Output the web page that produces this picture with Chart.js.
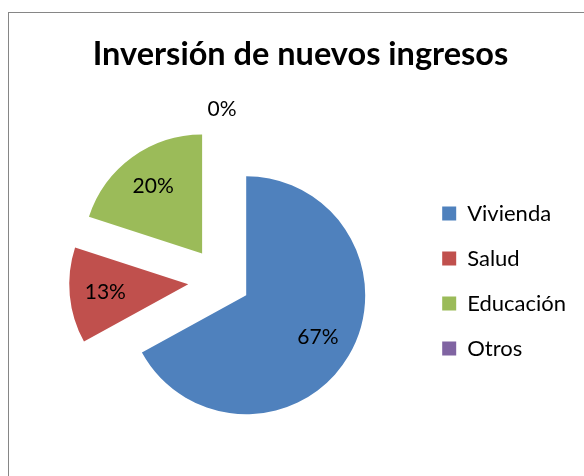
<!DOCTYPE html>
<html>
<head>
<meta charset="utf-8">
<script src="https://cdn.jsdelivr.net/npm/chart.js@4"></script>
<style>
  body { margin: 0; background: #fff; }
  #wrap { position: relative; width: 584px; height: 476px; overflow: hidden; }
  #frame { position: absolute; left: 8px; top: 12px; width: 620px; height: 520px; border: 1px solid #868686; }
  #chart { position: absolute; left: 0; top: 0; }
</style>
</head>
<body>
<div id="wrap">
  <div id="frame"></div>
  <canvas id="chart" width="584" height="476"></canvas>
</div>
<script>
const labels = ['Vivienda', 'Salud', 'Educación', 'Otros'];
const values = [67, 13, 20, 0];
const pctLabels = ['67%', '13%', '20%', '0%'];
const colors = ['#4F81BD', '#C0504D', '#9BBB59', '#8064A2'];
// how far each slice is pulled out from the middle (px)
const explode = [28, 34, 34, 34];

Chart.defaults.font.family = 'Lato';
Chart.defaults.color = '#000';

// move the slices apart, Excel style
const explodePlugin = {
  id: 'explode',
  beforeDatasetsDraw(chart) {
    const ca = chart.chartArea;
    const cx = (ca.left + ca.right) / 2;
    const cy = (ca.top + ca.bottom) / 2;
    chart.getDatasetMeta(0).data.forEach((arc, i) => {
      const mid = (arc.startAngle + arc.endAngle) / 2;
      arc.x = cx + Math.cos(mid) * explode[i];
      arc.y = cy + Math.sin(mid) * explode[i];
    });
  }
};

// percent labels in / outside slices
const pctPlugin = {
  id: 'pct',
  afterDatasetsDraw(chart) {
    const ctx = chart.ctx;
    ctx.save();
    ctx.font = '21px Lato';
    ctx.fillStyle = '#000';
    ctx.textAlign = 'center';
    ctx.textBaseline = 'middle';
    chart.getDatasetMeta(0).data.forEach((arc, i) => {
      const mid = (arc.startAngle + arc.endAngle) / 2;
      const d = values[i] > 0 ? arc.outerRadius * 0.7 : arc.outerRadius + 19;
      ctx.fillText(pctLabels[i], arc.x + Math.cos(mid) * d, arc.y + Math.sin(mid) * d);
    });
    ctx.restore();
  }
};

new Chart(document.getElementById('chart'), {
  type: 'pie',
  data: {
    labels,
    datasets: [{
      data: values,
      backgroundColor: colors,
      borderWidth: 0,
      radius: 119,
      clip: false
    }]
  },
  options: {
    responsive: false,
    animation: false,
    events: [],
    layout: { padding: { left: 25, right: 8, top: 0, bottom: 0 } },
    plugins: {
      title: {
        display: true,
        text: 'Inversión de nuevos ingresos',
        font: { size: 32.5, weight: 'bold' },
        color: '#000',
        padding: { top: 35, bottom: 12 }
      },
      legend: {
        position: 'right',
        fullSize: false,
        labels: {
          boxWidth: 14,
          boxHeight: 14,
          padding: 23,
          font: { size: 22 },
          color: '#000'
        }
      },
      tooltip: { enabled: false }
    }
  },
  plugins: [explodePlugin, pctPlugin]
});
</script>
</body>
</html>
